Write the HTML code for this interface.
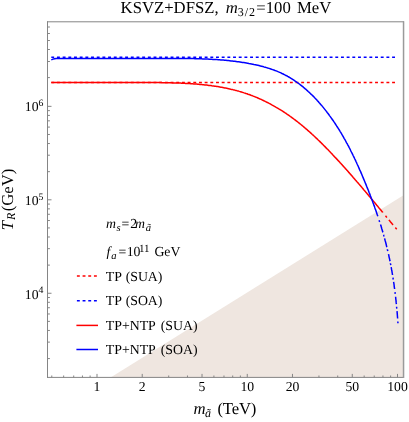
<!DOCTYPE html>
<html><head><meta charset="utf-8"><title>plot</title>
<style>html,body{margin:0;padding:0;background:#fff;}body{width:409px;height:422px;position:relative;overflow:hidden;font-family:"Liberation Serif",serif;}</style>
</head><body>
<svg width="409" height="422" viewBox="0 0 409 422" style="position:absolute;left:0;top:0;font-family:'Liberation Serif',serif;text-rendering:geometricPrecision;will-change:transform;">
<rect x="0" y="0" width="409" height="422" fill="#ffffff"/>
<polygon points="110.57,377.4 403.5,195.21 403.5,377.4" fill="#efe6e0"/>
<g fill="none" stroke-width="1.5" stroke-linejoin="round">
<path d="M51.3,82.55 H397.50" stroke="#ff0000" stroke-dasharray="2.9 2.78"/>
<path d="M51.3,57.2 H397.50" stroke="#0000ff" stroke-dasharray="2.9 2.78"/>
<path d="M51.3,82.6 L52.3,82.6 L53.3,82.6 L54.3,82.6 L55.3,82.6 L56.3,82.6 L57.4,82.6 L58.4,82.6 L59.4,82.6 L60.4,82.6 L61.4,82.6 L62.4,82.6 L63.4,82.6 L64.4,82.6 L65.4,82.6 L66.5,82.6 L67.5,82.6 L68.5,82.6 L69.5,82.6 L70.5,82.6 L71.5,82.6 L72.5,82.6 L73.5,82.6 L74.5,82.6 L75.6,82.6 L76.6,82.6 L77.6,82.6 L78.6,82.6 L79.6,82.6 L80.6,82.6 L81.6,82.6 L82.6,82.6 L83.6,82.6 L84.6,82.6 L85.6,82.6 L86.7,82.6 L87.7,82.6 L88.7,82.6 L89.7,82.6 L90.7,82.6 L91.7,82.6 L92.7,82.6 L93.7,82.6 L94.7,82.6 L95.7,82.6 L96.7,82.6 L97.7,82.6 L98.8,82.6 L99.8,82.6 L100.8,82.6 L101.8,82.6 L102.8,82.6 L103.8,82.6 L104.8,82.6 L105.8,82.6 L106.8,82.6 L107.8,82.6 L108.8,82.6 L109.8,82.6 L110.9,82.6 L111.9,82.6 L112.9,82.6 L113.9,82.6 L114.9,82.6 L115.9,82.6 L116.9,82.6 L117.9,82.6 L118.9,82.6 L119.9,82.6 L120.9,82.6 L121.9,82.6 L123.0,82.6 L124.0,82.6 L125.0,82.6 L126.0,82.6 L127.0,82.6 L128.0,82.6 L129.0,82.6 L130.0,82.6 L131.0,82.6 L132.0,82.6 L133.0,82.6 L134.1,82.6 L135.1,82.6 L136.1,82.6 L137.1,82.6 L138.1,82.6 L139.1,82.6 L140.1,82.6 L141.1,82.6 L142.1,82.6 L143.1,82.6 L144.2,82.6 L145.2,82.6 L146.2,82.6 L147.2,82.6 L148.2,82.6 L149.2,82.6 L150.2,82.6 L151.2,82.6 L152.2,82.6 L153.3,82.6 L154.3,82.6 L155.3,82.6 L156.3,82.6 L157.3,82.6 L158.3,82.6 L159.3,82.6 L160.3,82.6 L161.3,82.6 L162.3,82.7 L163.4,82.7 L164.4,82.7 L165.4,82.7 L166.4,82.7 L167.4,82.7 L168.4,82.8 L169.4,82.8 L170.4,82.8 L171.5,82.8 L172.5,82.9 L173.5,82.9 L174.5,82.9 L175.5,83.0 L176.5,83.0 L177.5,83.0 L178.5,83.1 L179.5,83.1 L180.6,83.1 L181.6,83.2 L182.6,83.2 L183.6,83.3 L184.6,83.3 L185.6,83.4 L186.6,83.4 L187.6,83.5 L188.6,83.6 L189.7,83.6 L190.7,83.7 L191.7,83.8 L192.7,83.8 L193.7,83.9 L194.7,84.0 L195.7,84.0 L196.7,84.1 L197.7,84.2 L198.7,84.3 L199.8,84.4 L200.8,84.5 L201.8,84.6 L202.8,84.7 L203.8,84.8 L204.8,84.9 L205.8,85.0 L206.8,85.1 L207.8,85.2 L208.8,85.4 L209.8,85.5 L210.8,85.6 L211.8,85.8 L212.8,85.9 L213.8,86.0 L214.8,86.2 L215.8,86.3 L216.8,86.5 L217.8,86.6 L218.8,86.8 L219.8,87.0 L220.8,87.2 L221.8,87.3 L222.8,87.5 L223.8,87.7 L224.8,87.9 L225.8,88.1 L226.7,88.3 L227.7,88.5 L228.7,88.7 L229.7,88.9 L230.7,89.2 L231.7,89.4 L232.6,89.6 L233.6,89.9 L234.6,90.1 L235.6,90.4 L236.5,90.6 L237.5,90.9 L238.5,91.1 L239.4,91.4 L240.4,91.7 L241.4,92.0 L242.3,92.3 L243.3,92.6 L244.2,92.9 L245.2,93.2 L246.1,93.5 L247.1,93.8 L248.0,94.2 L249.0,94.5 L249.9,94.8 L250.9,95.2 L251.8,95.5 L252.7,95.9 L253.7,96.3 L254.6,96.6 L255.5,97.0 L256.5,97.4 L257.4,97.8 L258.3,98.2 L259.2,98.6 L260.1,99.0 L261.1,99.4 L262.0,99.8 L262.9,100.3 L263.8,100.7 L264.7,101.1 L265.6,101.6 L266.5,102.0 L267.4,102.5 L268.3,102.9 L269.2,103.4 L270.1,103.8 L271.0,104.3 L271.8,104.8 L272.7,105.3 L273.6,105.8 L274.5,106.3 L275.4,106.8 L276.2,107.3 L277.1,107.8 L278.0,108.3 L278.8,108.8 L279.7,109.3 L280.5,109.9 L281.4,110.4 L282.2,110.9 L283.1,111.5 L283.9,112.0 L284.8,112.6 L285.6,113.1 L286.4,113.7 L287.3,114.3 L288.1,114.8 L288.9,115.4 L289.7,116.0 L290.5,116.6 L291.4,117.2 L292.2,117.8 L293.0,118.4 L293.8,119.0 L294.6,119.6 L295.4,120.2 L296.2,120.8 L297.0,121.4 L297.8,122.0 L298.6,122.7 L299.4,123.3 L300.1,123.9 L300.9,124.5 L301.7,125.2 L302.5,125.8 L303.3,126.5 L304.0,127.1 L304.8,127.8 L305.6,128.4 L306.3,129.1 L307.1,129.7 L307.8,130.4 L308.6,131.1 L309.4,131.8 L310.1,132.4 L310.9,133.1 L311.6,133.8 L312.3,134.5 L313.1,135.1 L313.8,135.8 L314.6,136.5 L315.3,137.2 L316.0,137.9 L316.8,138.6 L317.5,139.3 L318.2,140.0 L319.0,140.7 L319.7,141.4 L320.4,142.1 L321.1,142.8 L321.9,143.6 L322.6,144.3 L323.3,145.0 L324.0,145.7 L324.7,146.4 L325.4,147.1 L326.1,147.9 L326.8,148.6 L327.6,149.3 L328.3,150.0 L329.0,150.8 L329.7,151.5 L330.4,152.2 L331.1,153.0 L331.8,153.7 L332.5,154.4 L333.1,155.2 L333.8,155.9 L334.5,156.7 L335.2,157.4 L335.9,158.1 L336.6,158.9 L337.3,159.6 L338.0,160.4 L338.7,161.1 L339.3,161.8 L340.0,162.6 L340.7,163.3 L341.4,164.1 L342.1,164.8 L342.7,165.6 L343.4,166.3 L344.1,167.1 L344.8,167.8 L345.4,168.6 L346.1,169.3 L346.8,170.1 L347.5,170.8 L348.1,171.6 L348.8,172.4 L349.5,173.1 L350.1,173.9 L350.8,174.6 L351.5,175.4 L352.1,176.1 L352.8,176.9 L353.4,177.7 L354.1,178.4 L354.8,179.2 L355.4,180.0 L356.1,180.7 L356.7,181.5 L357.4,182.2 L358.1,183.0 L358.7,183.8 L359.4,184.5 L360.0,185.3 L360.7,186.1 L361.3,186.8 L362.0,187.6 L362.6,188.4 L363.3,189.1 L363.9,189.9 L364.6,190.7 L365.3,191.4 L365.9,192.2 L366.6,193.0 L367.2,193.8 L367.8,194.5 L368.5,195.3 L369.1,196.1 L369.8,196.8 L370.4,197.6 L371.1,198.4 L371.7,199.2 L372.4,199.9 L373.0,200.7 L373.7,201.5 L374.3,202.3 L375.0,203.0 L375.6,203.8 L376.2,204.6 L376.9,205.4 L377.5,206.1 L378.2,206.9 L378.8,207.7 L379.5,208.5 L380.1,209.2 L380.8,210.0 L381.4,210.8 L382.0,211.6 L382.7,212.3 L382.8,212.5 M385.5,215.8 L385.9,216.2 L386.5,217.0 L387.0,217.5 M388.9,219.8 L389.1,220.1 L389.8,220.9 L390.4,221.7 L391.0,222.4 L391.7,223.2 L392.3,224.0 L393.0,224.8 L393.1,224.9 M395.3,227.6 L395.6,227.9 L396.2,228.6 L396.7,229.3" stroke="#ff0000"/>
<path d="M51.3,59.9 L53.5,58.9 L56.0,58.4 L57.3,58.4 L58.5,58.4 L59.8,58.4 L61.1,58.4 L62.4,58.4 L63.7,58.4 L65.0,58.4 L66.3,58.4 L67.6,58.4 L68.9,58.4 L70.2,58.4 L71.5,58.4 L72.7,58.4 L74.0,58.4 L75.3,58.4 L76.6,58.4 L77.9,58.4 L79.2,58.4 L80.5,58.4 L81.8,58.4 L83.1,58.4 L84.3,58.4 L85.6,58.4 L86.9,58.4 L88.2,58.4 L89.5,58.4 L90.8,58.4 L92.1,58.4 L93.3,58.4 L94.6,58.4 L95.9,58.4 L97.2,58.4 L98.5,58.4 L99.8,58.4 L101.1,58.4 L102.4,58.4 L103.6,58.4 L104.9,58.4 L106.2,58.4 L107.5,58.4 L108.8,58.4 L110.1,58.4 L111.3,58.4 L112.6,58.4 L113.9,58.4 L115.2,58.4 L116.5,58.4 L117.8,58.4 L119.1,58.4 L120.3,58.4 L121.6,58.4 L122.9,58.4 L124.2,58.4 L125.5,58.4 L126.8,58.4 L128.1,58.4 L129.3,58.4 L130.6,58.4 L131.9,58.4 L133.2,58.4 L134.5,58.4 L135.8,58.4 L137.1,58.4 L138.3,58.4 L139.6,58.4 L140.9,58.4 L142.2,58.4 L143.5,58.4 L144.8,58.4 L146.1,58.4 L147.3,58.4 L148.6,58.4 L149.9,58.4 L151.2,58.4 L152.5,58.4 L153.8,58.4 L155.1,58.4 L156.3,58.4 L157.6,58.4 L158.9,58.4 L160.2,58.4 L161.5,58.4 L162.8,58.4 L164.1,58.4 L165.4,58.4 L166.7,58.4 L167.9,58.4 L169.2,58.4 L170.5,58.4 L171.8,58.4 L173.1,58.4 L174.4,58.4 L175.7,58.4 L177.0,58.4 L178.3,58.4 L179.5,58.5 L180.8,58.5 L182.1,58.5 L183.4,58.5 L184.7,58.5 L186.0,58.5 L187.3,58.5 L188.6,58.5 L189.9,58.6 L191.1,58.6 L192.4,58.6 L193.7,58.6 L195.0,58.7 L196.3,58.7 L197.6,58.7 L198.9,58.8 L200.2,58.8 L201.5,58.8 L202.7,58.9 L204.0,58.9 L205.3,59.0 L206.6,59.0 L207.9,59.1 L209.2,59.2 L210.5,59.2 L211.7,59.3 L213.0,59.4 L214.3,59.4 L215.6,59.5 L216.9,59.6 L218.2,59.7 L219.5,59.8 L220.7,59.9 L222.0,60.0 L223.3,60.1 L224.6,60.2 L225.9,60.3 L227.2,60.5 L228.4,60.6 L229.7,60.7 L231.0,60.9 L232.3,61.0 L233.6,61.2 L234.9,61.3 L236.1,61.5 L237.4,61.7 L238.7,61.8 L240.0,62.0 L241.3,62.2 L242.5,62.4 L243.8,62.6 L245.1,62.8 L246.4,63.0 L247.6,63.2 L248.9,63.5 L250.2,63.7 L251.5,63.9 L252.7,64.2 L254.0,64.5 L255.3,64.7 L256.5,65.0 L257.8,65.3 L259.0,65.6 L260.3,65.9 L261.5,66.2 L262.8,66.5 L264.0,66.9 L265.3,67.2 L266.5,67.6 L267.7,68.0 L269.0,68.4 L270.2,68.8 L271.4,69.2 L272.6,69.6 L273.8,70.0 L275.0,70.5 L276.2,70.9 L277.4,71.4 L278.5,71.9 L279.7,72.4 L280.9,72.9 L282.0,73.5 L283.2,74.0 L284.3,74.6 L285.4,75.2 L286.6,75.7 L287.7,76.4 L288.8,77.0 L289.9,77.6 L291.0,78.3 L292.0,79.0 L293.1,79.6 L294.2,80.3 L295.2,81.1 L296.3,81.8 L297.3,82.5 L298.4,83.3 L299.4,84.0 L300.4,84.8 L301.4,85.6 L302.4,86.4 L303.4,87.2 L304.4,88.1 L305.3,88.9 L306.3,89.7 L307.3,90.6 L308.2,91.5 L309.2,92.3 L310.1,93.2 L311.0,94.1 L312.0,95.0 L312.9,95.9 L313.8,96.8 L314.7,97.8 L315.6,98.7 L316.4,99.6 L317.3,100.6 L318.2,101.5 L319.0,102.5 L319.9,103.5 L320.7,104.5 L321.6,105.4 L322.4,106.4 L323.2,107.4 L324.0,108.4 L324.8,109.4 L325.6,110.4 L326.4,111.4 L327.2,112.5 L328.0,113.5 L328.8,114.5 L329.5,115.6 L330.3,116.6 L331.0,117.6 L331.8,118.7 L332.5,119.7 L333.3,120.8 L334.0,121.9 L334.7,122.9 L335.4,124.0 L336.1,125.1 L336.8,126.2 L337.5,127.2 L338.2,128.3 L338.9,129.4 L339.6,130.5 L340.2,131.6 L340.9,132.7 L341.6,133.8 L342.2,134.9 L342.9,136.1 L343.5,137.2 L344.1,138.3 L344.8,139.4 L345.4,140.5 L346.0,141.7 L346.6,142.8 L347.3,143.9 L347.9,145.1 L348.5,146.2 L349.1,147.4 L349.7,148.5 L350.3,149.7 L350.8,150.8 L351.4,152.0 L352.0,153.1 L352.6,154.3 L353.1,155.5 L353.7,156.6 L354.3,157.8 L354.8,159.0 L355.4,160.1 L355.9,161.3 L356.5,162.5 L357.0,163.7 L357.5,164.8 L358.1,166.0 L358.6,167.2 L359.1,168.4 L359.6,169.6 L360.2,170.8 L360.7,171.9 L361.2,173.1 L361.7,174.3 L362.2,175.5 L362.7,176.7 L363.2,177.9 L363.7,179.1 L364.2,180.3 L364.7,181.5 L365.2,182.7 L365.7,183.9 L366.2,185.1 L366.6,186.3 L367.1,187.4 L367.6,188.6 L368.1,189.8 L368.6,191.0 L369.0,192.2 L369.5,193.4 L370.0,194.6 L370.4,195.8 L370.9,197.0 L371.3,198.2 L371.8,199.4 L372.3,200.6 L372.7,201.8 L373.1,203.0 L373.6,204.2 L374.0,205.4 L374.5,206.6 L374.9,207.9 L375.3,209.1 L375.8,210.3 L376.2,211.5 L376.6,212.7 L377.0,213.9 L377.4,215.1 L377.8,216.2 M379.1,220.2 L379.4,221.2 L379.7,222.0 M383.6,234.7 L383.9,235.9 L384.1,236.5 M387.4,249.3 L387.4,249.5 L387.7,250.8 L387.8,251.1 M390.4,263.3 L390.4,263.4 L390.7,264.6 L390.8,265.1 M393.0,277.7 L393.1,278.6 L393.3,279.5 M395.0,292.1 L395.1,292.7 L395.2,293.9 M396.6,306.8 L396.7,308.0 L396.8,308.6 M397.8,321.5 L397.9,322.1 L397.9,323.3 M380.5,224.5 L380.6,224.8 L381.0,226.1 L381.4,227.3 L381.7,228.5 L382.1,229.7 L382.5,231.0 L382.8,232.2 L382.9,232.4 M384.6,238.4 L384.9,239.6 L385.2,240.8 L385.6,242.1 L385.9,243.3 L386.2,244.5 L386.5,245.8 L386.8,247.0 L386.9,247.2 M388.5,254.1 L388.6,254.5 L388.9,255.8 L389.1,257.1 L389.4,258.3 L389.7,259.6 L389.9,260.8 L390.0,261.2 M391.2,267.2 L391.4,268.4 L391.6,269.7 L391.9,271.0 L392.1,272.3 L392.3,273.5 L392.5,274.8 L392.5,274.9 M393.6,281.8 L393.7,282.5 L393.9,283.7 L394.1,285.0 L394.2,286.3 L394.4,287.6 L394.6,288.8 L394.6,288.9 M395.6,296.7 L395.7,297.8 L395.8,299.1 L396.0,300.4 L396.1,301.6 L396.2,302.9 L396.4,304.2 M397.0,311.1 L397.1,311.9 L397.2,313.1 L397.3,314.4 L397.4,315.7 L397.5,317.0 L397.6,318.2 L397.6,318.6" stroke="#0000ff"/>
</g>
<g stroke="#858585" stroke-width="1" fill="none">
<path d="M47.5,21.3 V377.9 M47.0,377.4 H404.0 M47.0,21.8 H404.0"/>
<path d="M403.55,21.3 V377.9" stroke="#9a9a9a" stroke-width="1.5"/>
<path d="M51.77,377.4 v-1.9"/>
<path d="M63.67,377.4 v-1.9"/>
<path d="M73.73,377.4 v-1.9"/>
<path d="M82.44,377.4 v-1.9"/>
<path d="M90.12,377.4 v-1.9"/>
<path d="M97.00,377.4 v-3.5"/>
<path d="M142.23,377.4 v-3.5"/>
<path d="M168.69,377.4 v-1.9"/>
<path d="M187.46,377.4 v-1.9"/>
<path d="M202.02,377.4 v-3.5"/>
<path d="M213.92,377.4 v-1.9"/>
<path d="M223.98,377.4 v-1.9"/>
<path d="M232.69,377.4 v-1.9"/>
<path d="M240.37,377.4 v-1.9"/>
<path d="M247.25,377.4 v-3.5"/>
<path d="M292.48,377.4 v-3.5"/>
<path d="M318.94,377.4 v-1.9"/>
<path d="M337.71,377.4 v-1.9"/>
<path d="M352.27,377.4 v-3.5"/>
<path d="M364.17,377.4 v-1.9"/>
<path d="M374.23,377.4 v-1.9"/>
<path d="M382.94,377.4 v-1.9"/>
<path d="M390.62,377.4 v-1.9"/>
<path d="M397.50,377.4 v-3.5"/>
<path d="M47.5,358.57 h2.4"/>
<path d="M47.5,342.11 h2.4"/>
<path d="M47.5,330.44 h2.4"/>
<path d="M47.5,321.38 h2.4"/>
<path d="M47.5,313.98 h2.4"/>
<path d="M47.5,307.73 h2.4"/>
<path d="M47.5,302.31 h2.4"/>
<path d="M47.5,297.53 h2.4"/>
<path d="M47.5,293.25 h4"/>
<path d="M47.5,265.12 h2.4"/>
<path d="M47.5,248.66 h2.4"/>
<path d="M47.5,236.99 h2.4"/>
<path d="M47.5,227.93 h2.4"/>
<path d="M47.5,220.53 h2.4"/>
<path d="M47.5,214.28 h2.4"/>
<path d="M47.5,208.86 h2.4"/>
<path d="M47.5,204.08 h2.4"/>
<path d="M47.5,199.80 h4"/>
<path d="M47.5,171.67 h2.4"/>
<path d="M47.5,155.21 h2.4"/>
<path d="M47.5,143.54 h2.4"/>
<path d="M47.5,134.48 h2.4"/>
<path d="M47.5,127.08 h2.4"/>
<path d="M47.5,120.83 h2.4"/>
<path d="M47.5,115.41 h2.4"/>
<path d="M47.5,110.63 h2.4"/>
<path d="M47.5,106.35 h4"/>
<path d="M47.5,77.60 h2.4"/>
<path d="M47.5,61.50 h2.4"/>
<path d="M47.5,49.50 h2.4"/>
<path d="M47.5,40.50 h2.4"/>
<path d="M47.5,33.50 h2.4"/>
<path d="M47.5,27.00 h2.4"/>
</g>
<g fill="#000" font-size="13.7px">
<text x="97.00" y="390.9" text-anchor="middle">1</text>
<text x="142.23" y="390.9" text-anchor="middle">2</text>
<text x="202.02" y="390.9" text-anchor="middle">5</text>
<text x="247.25" y="390.9" text-anchor="middle">10</text>
<text x="292.48" y="390.9" text-anchor="middle">20</text>
<text x="352.27" y="390.9" text-anchor="middle">50</text>
<text x="397.50" y="390.9" text-anchor="middle">100</text>
<text x="43.4" y="298.90" text-anchor="end">10<tspan font-size="9.8px" dy="-5.6">4</tspan></text>
<text x="43.4" y="205.30" text-anchor="end">10<tspan font-size="9.8px" dy="-5.6">5</tspan></text>
<text x="43.4" y="111.10" text-anchor="end">10<tspan font-size="9.8px" dy="-5.6">6</tspan></text>
</g>
<g font-size="16.7px">
<text x="120.6" y="12.7">KSVZ+DFSZ,</text>
<text x="225.8" y="12.7" font-style="italic">m</text>
<text x="237.7" y="15.5" font-size="12px" textLength="17.3" lengthAdjust="spacing">3/2</text>
<text x="256.3" y="12.7">=100</text>
<text x="296.9" y="12.7">MeV</text>
<text x="193.4" y="414" font-style="italic">m</text>
<text x="204.9" y="416.6" font-size="12px" font-style="italic">ã</text>
<text x="217.4" y="414" letter-spacing="-0.15">(TeV)</text>
<g transform="translate(12.5,230.2) rotate(-90)">
<text x="0" y="0" font-style="italic">T</text>
<text x="10.2" y="2.6" font-size="12px" font-style="italic">R</text>
<text x="18.9" y="0">(GeV)</text>
</g>
</g>
<g font-size="13.8px">
<text x="106.0" y="228.3" font-style="italic">m</text>
<text x="116.5" y="230.70000000000002" font-style="italic" font-size="10.6px">s</text>
<text x="121.6" y="228.3">=</text>
<text x="130.3" y="228.3">2</text>
<text x="135.1" y="228.3" font-style="italic">m</text>
<text x="145.7" y="230.70000000000002" font-style="italic" font-size="10.6px">ã</text>
<text x="106.4" y="256.2" font-style="italic">f</text>
<text x="111.3" y="258.59999999999997" font-style="italic" font-size="10.6px">a</text>
<text x="118.5" y="256.2">=</text>
<text x="126.7" y="256.2">10</text>
<text x="139.0" y="251.7" font-size="11px">11</text>
<text x="154.4" y="256.2">GeV</text>
<text x="105.8" y="280.6" word-spacing="0.8">TP (SUA)</text>
<text x="105.8" y="305.2" word-spacing="0.8">TP (SOA)</text>
<text x="105.8" y="329.8" word-spacing="2">TP+NTP (SUA)</text>
<text x="105.8" y="353.7" word-spacing="2">TP+NTP (SOA)</text>
</g>
<g fill="none" stroke-width="1.5">
<path d="M76.9,276.1 H98" stroke="#ff0000" stroke-dasharray="2.9 2.78"/>
<path d="M76.9,300.7 H98" stroke="#0000ff" stroke-dasharray="2.9 2.78"/>
<path d="M76.4,325.4 H98" stroke="#ff0000"/>
<path d="M76.4,349.5 H98" stroke="#0000ff"/>
</g>
</svg>
</body></html>
